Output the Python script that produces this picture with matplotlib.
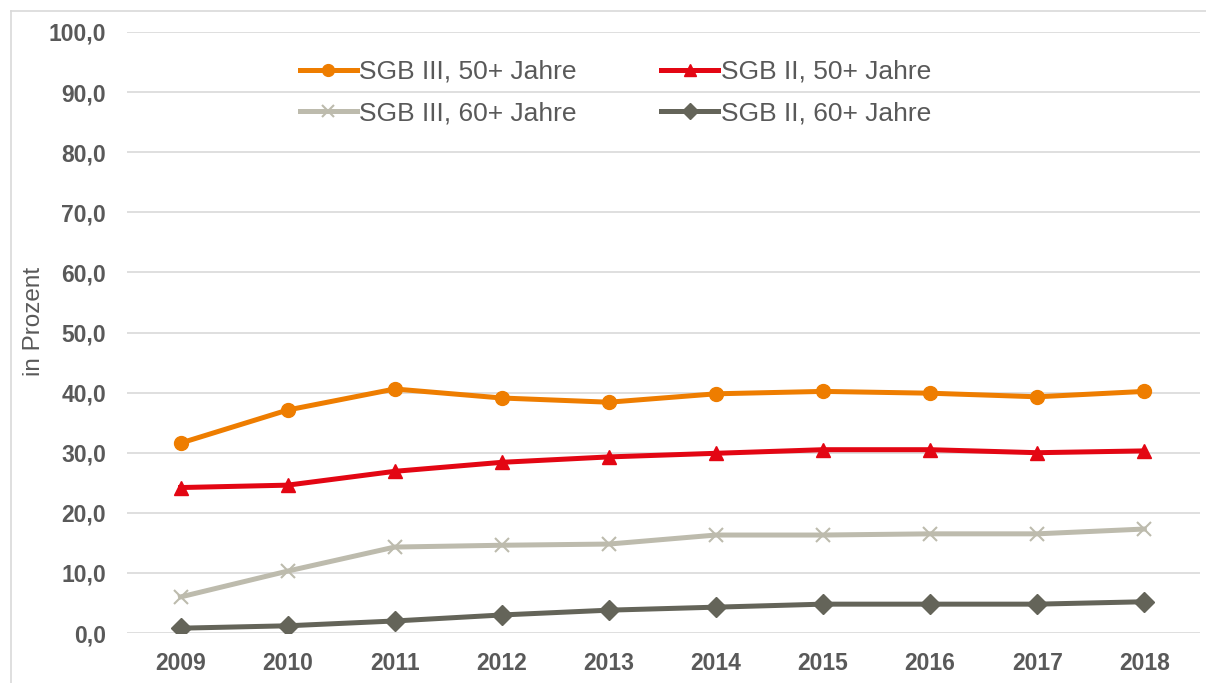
import matplotlib
matplotlib.use("Agg")
import matplotlib.pyplot as plt
from matplotlib.lines import Line2D

years = ["2009", "2010", "2011", "2012", "2013", "2014", "2015", "2016", "2017", "2018"]
sgb3_50 = [31.6, 37.1, 40.6, 39.1, 38.4, 39.8, 40.2, 39.9, 39.3, 40.2]
sgb2_50 = [24.2, 24.6, 26.9, 28.4, 29.3, 29.9, 30.5, 30.5, 30.0, 30.3]
sgb3_60 = [6.0, 10.3, 14.3, 14.6, 14.8, 16.3, 16.3, 16.5, 16.5, 17.3]
sgb2_60 = [0.8, 1.2, 2.0, 3.0, 3.8, 4.3, 4.8, 4.8, 4.8, 5.2]
yticks = [0, 10, 20, 30, 40, 50, 60, 70, 80, 90, 100]

plt.rcParams['font.family'] = ['Liberation Sans', 'DejaVu Sans']
txt = '#595959'

W, H = 1206, 683
fig = plt.figure(figsize=(W / 100, H / 100), dpi=100)
ax = fig.add_axes([127 / W, 1 - 633 / H, (1200 - 127) / W, (633 - 32) / H])

# figure border (left and top visible, rest cropped)
border_col = '#d9d9d9'
fig.add_artist(Line2D([10.5 / W, 10.5 / W], [0, 1 - 10.5 / H], transform=fig.transFigure,
                      color=border_col, lw=1.2))
fig.add_artist(Line2D([10.5 / W, 1], [1 - 10.5 / H, 1 - 10.5 / H], transform=fig.transFigure,
                      color=border_col, lw=1.2))

x = list(range(len(years)))
lw = 3.6
h1, = ax.plot(x, sgb3_50, color='#EE7D00', lw=lw, marker='o', ms=10, label='SGB III, 50+ Jahre', zorder=5)
h2, = ax.plot(x, sgb2_50, color='#E30613', lw=lw, marker='^', ms=10, label='SGB II, 50+ Jahre', zorder=5)
h3, = ax.plot(x, sgb3_60, color='#BDBBAD', lw=lw, marker='x', ms=10, mew=1.5, label='SGB III, 60+ Jahre', zorder=4)
h4, = ax.plot(x, sgb2_60, color='#646459', lw=lw, marker='D', ms=10, label='SGB II, 60+ Jahre', zorder=5)

ax.set_xlim(-0.5, 9.52)
ax.set_ylim(0, 100)
ax.set_yticks(yticks)
ax.set_yticklabels([f"{v:.1f}".replace('.', ',') for v in yticks])
ax.set_xticks(x)
ax.set_xticklabels(years)
for lab in ax.get_xticklabels() + ax.get_yticklabels():
    lab.set_fontweight('bold')
    lab.set_fontsize(16.5)
    lab.set_color(txt)
ax.tick_params(axis='both', length=0)
ax.tick_params(axis='y', pad=15)
ax.tick_params(axis='x', pad=13.5)
ax.grid(axis='y', color='#d9d9d9', lw=1.2)
ax.set_axisbelow(True)
for s in ax.spines.values():
    s.set_visible(False)

fig.text(34 / W, 1 - 321 / H, 'in Prozent', rotation=90, ha='center', va='center',
         fontsize=17.5, color=txt)

leg = fig.legend(handles=[h1, h3, h2, h4], ncol=2, loc='upper left',
                 bbox_to_anchor=(300 / W, 1 - 60 / H), frameon=False, fontsize=19,
                 handlelength=2.15, handletextpad=0.1, columnspacing=3.2,
                 labelspacing=0.65, borderpad=0, borderaxespad=0, markerscale=0.85)
for t in leg.get_texts():
    t.set_color(txt)

fig.savefig('out.png', dpi=100)
